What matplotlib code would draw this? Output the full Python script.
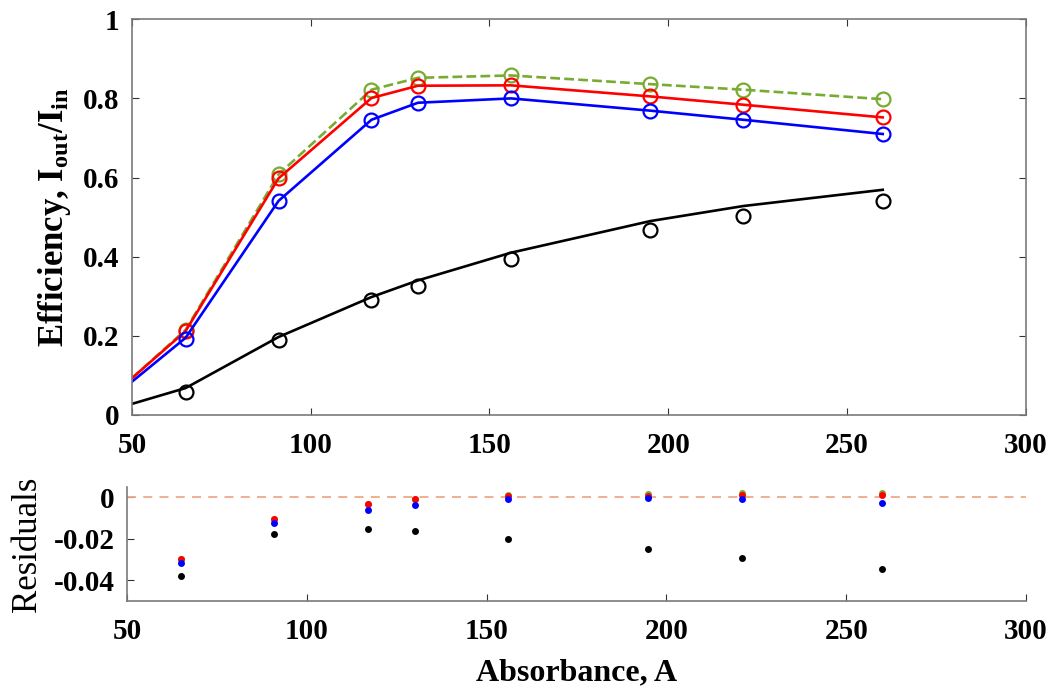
import numpy as np
import matplotlib.pyplot as plt

# absorbance values of the measured points
absorb = [65, 91, 117, 130, 156, 195, 221, 260]
fit_x = [50, 65, 91, 117, 130, 156, 195, 221, 260]

# measured efficiency
eff_green = [0.215, 0.608, 0.822, 0.852, 0.858, 0.836, 0.822, 0.798]
eff_red = [0.212, 0.598, 0.801, 0.832, 0.833, 0.805, 0.784, 0.752]
eff_blue = [0.191, 0.541, 0.746, 0.789, 0.800, 0.769, 0.746, 0.710]
eff_black = [0.058, 0.190, 0.291, 0.326, 0.394, 0.468, 0.503, 0.541]

# model curves
fit_green = [0.093, 0.215, 0.608, 0.822, 0.852, 0.858, 0.836, 0.822, 0.798]
fit_red = [0.093, 0.212, 0.598, 0.801, 0.832, 0.833, 0.805, 0.784, 0.752]
fit_blue = [0.084, 0.195, 0.541, 0.746, 0.789, 0.800, 0.769, 0.746, 0.710]
fit_black = [0.028, 0.068, 0.197, 0.298, 0.340, 0.410, 0.490, 0.528, 0.569]

# residuals
res_green = [-0.0295, -0.0105, -0.0030, -0.0008, 0.0010, 0.0016, 0.0019, 0.0019]
res_red = [-0.0295, -0.0105, -0.0033, -0.0010, 0.0008, 0.0008, 0.0010, 0.0010]
res_blue = [-0.0315, -0.0126, -0.0063, -0.0035, -0.0010, -0.0003, -0.0010, -0.0025]
res_black = [-0.0381, -0.0175, -0.0154, -0.0164, -0.0199, -0.0250, -0.0291, -0.0347]

green = '#77AC30'
ax_col = '#7a7a7a'

plt.rcParams['font.family'] = 'Liberation Serif'
plt.rcParams['font.weight'] = 'bold'
plt.rcParams['mathtext.fontset'] = 'custom'
plt.rcParams['mathtext.rm'] = 'Liberation Serif:bold'
plt.rcParams['mathtext.it'] = 'Liberation Serif:bold'
plt.rcParams['mathtext.bf'] = 'Liberation Serif:bold'

fig = plt.figure(figsize=(10.54, 6.9), dpi=100)
ax = fig.add_axes([0.1252, 0.3986, 0.848, 0.5735])
axr = fig.add_axes([0.1205, 0.129, 0.853, 0.1652])

ms, mew, lw = 10, 1.6, 1.9
ax.plot(fit_x, fit_green, '--', color=green, lw=lw)
ax.plot(absorb, eff_green, 'o', mfc='none', mec=green, ms=ms, mew=mew)
for fx, fy, col in [(fit_red, eff_red, 'r'), (fit_blue, eff_blue, 'b'),
                    (fit_black, eff_black, 'k')]:
    ax.plot(fit_x, fx, '-', color=col, lw=lw)
    ax.plot(absorb, fy, 'o', mfc='none', mec=col, ms=ms, mew=mew)

ax.set_xlim(50, 300)
ax.set_ylim(0, 1)
ax.set_xticks(np.arange(50, 301, 50))
ax.set_yticks([0, 0.2, 0.4, 0.6, 0.8, 1])
ax.set_yticklabels(['0', '0.2', '0.4', '0.6', '0.8', '1'])
ax.set_ylabel('Efficiency, I$_{\\rm out}$/I$_{\\rm in}$', fontsize=25, fontweight='bold')
ax.yaxis.set_label_coords(-0.066, 0.5)

axr.axhline(0, ls=(0, (5, 4)), color='#EFA888', lw=1.3)
for r, col in [(res_green, green), (res_red, 'r'), (res_blue, 'b'), (res_black, 'k')]:
    axr.plot(absorb, r, 'o', color=col, ms=5, mew=0)
axr.set_xlim(50, 300)
axr.set_ylim(-0.05, 0.005)
axr.set_xticks(np.arange(50, 301, 50))
axr.set_yticks([0, -0.02, -0.04])
axr.set_yticklabels(['0', '-0.02', '-0.04'])
axr.set_ylabel('Residuals', fontsize=25, fontweight='normal')
axr.yaxis.set_label_coords(-0.092, 0.5)
axr.set_xlabel('Absorbance, A', fontsize=23, fontweight='bold')
axr.xaxis.set_label_coords(0.5, -0.5)
axr.spines['top'].set_visible(False)
axr.spines['right'].set_visible(False)

for a in (ax, axr):
    for s in a.spines.values():
        s.set_color(ax_col)
        s.set_linewidth(1.2)
    a.tick_params(direction='in', length=5, color='#333333', labelsize=21)
    a.tick_params(axis='x', pad=12)
    a.tick_params(axis='y', pad=9)
    for t in a.get_xticklabels() + a.get_yticklabels():
        t.set_fontweight('bold')
ax.tick_params(top=True, right=True)

fig.savefig('out.png', dpi=100)
